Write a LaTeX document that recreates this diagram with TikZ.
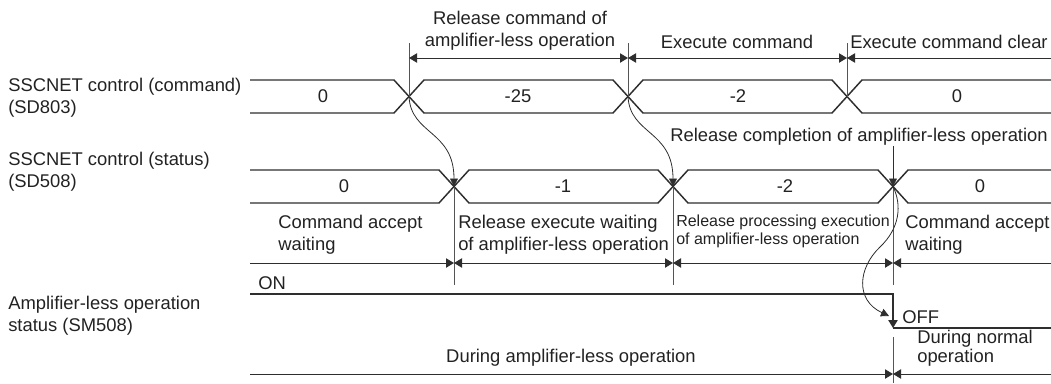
\documentclass[tikz,border=0pt]{standalone}
\usepackage{fontspec}
\setmainfont{Liberation Sans}
\usetikzlibrary{arrows.meta}
\definecolor{wire}{HTML}{2E2E2E}
\definecolor{tickgray}{HTML}{555555}
\definecolor{txt}{HTML}{222222}
\newcommand{\bigtxt}{\fontsize{13.8}{16.5}\selectfont}
\newcommand{\smalltxt}{\fontsize{12}{13.5}\selectfont}
\tikzset{
 every node/.append style={font=\bigtxt,text=txt,inner sep=0pt,align=center},
 bus/.style={draw=wire,line width=1.1pt},
 sig/.style={draw=wire,line width=1.1pt},
 tickline/.style={draw=tickgray,line width=.6pt},
 span/.style={draw=wire,line width=.75pt},
 tipend/.style={-{Triangle[length=6pt,width=7pt]}},
 tipboth/.style={{Triangle[length=6pt,width=7pt]}-{Triangle[length=6pt,width=7pt]}},
 cause/.style={draw=wire,line width=.6pt,-{Triangle[length=6pt,width=6pt]}},
 side/.style={align=left,anchor=west},
}

\begin{document}
\begin{tikzpicture}[x=.75pt,y=-.75pt]
\useasboundingbox (0,0) rectangle (1051,383);

% change points of the two word devices
\coordinate (c1) at (409,96.5);
\coordinate (c2) at (628,96.5);
\coordinate (c3) at (847,96.5);
\coordinate (s1) at (454,186.5);
\coordinate (s2) at (673,186.5);
\coordinate (s3) at (893,186.5);

% SD803
\node[side] (cmdname) at (8,98) {SSCNET control (command)\\(SD803)};
\draw[bus] (250,80) -- (394,80) -- (424,113) -- (613,113) -- (643,80) -- (832,80) -- (862,113) -- (1051,113);
\draw[bus] (250,113) -- (394,113) -- (424,80) -- (613,80) -- (643,113) -- (832,113) -- (862,80) -- (1051,80);
\node (cmdzero) at (323,96.5) {0};
\node (cmdrel) at (518,96.5) {-25};
\node (cmdexe) at (738,96.5) {-2};
\node (cmdclr) at (957,96.5) {0};

% command spans
\coordinate (t1) at (409,43);
\coordinate (t2) at (628,43);
\coordinate (t3) at (847,43);
\draw[tickline] (t1) -- (c1);
\draw[tickline] (t2) -- (c2);
\draw[tickline] (t3) -- (c3);
\coordinate (a1) at (409,58);
\coordinate (a2) at (628,58);
\coordinate (a3) at (847,58);
\coordinate (a4) at (1051,58);
\draw[span,tipboth] (a1) -- (a2);
\draw[span,tipboth] (a2) -- (a3);
\draw[span,tipend] (a4) -- (a3);
\node (relcmd) at (520,31) {Release command of\\amplifier-less operation};
\node (execmd) at (737,42) {Execute command};
\node[anchor=west] (execlr) at (850,42) {Execute command clear};

% SD508
\node[side] (statname) at (8,172) {SSCNET control (status)\\(SD508)};
\draw[bus] (250,170) -- (439,170) -- (469,203) -- (658,203) -- (688,170) -- (878,170) -- (908,203) -- (1051,203);
\draw[bus] (250,203) -- (439,203) -- (469,170) -- (658,170) -- (688,203) -- (878,203) -- (908,170) -- (1051,170);
\node (statzero) at (344,186.5) {0};
\node (statwait) at (563,186.5) {-1};
\node (statproc) at (785,186.5) {-2};
\node (statdone) at (980,186.5) {0};

\node[anchor=east] (relcomp) at (1048,137) {Release completion of amplifier-less operation};
\draw[cause] (relcomp.south -| s3) -- (s3);
\draw[cause] (c1) .. controls (411,135) and (454,130) .. (s1);
\draw[cause] (c2) .. controls (630,135) and (673,130) .. (s2);

% status spans
\coordinate (b1) at (454,285);
\coordinate (b2) at (673,285);
\coordinate (b3) at (893,285);
\draw[tickline] (s1) -- (b1);
\draw[tickline] (s2) -- (b2);
\draw[tickline] (s3) -- (b3);
\coordinate (d0) at (250,263);
\coordinate (d1) at (454,263);
\coordinate (d2) at (673,263);
\coordinate (d3) at (893,263);
\coordinate (d4) at (1051,263);
\draw[span,tipend] (d0) -- (d1);
\draw[span,tipboth] (d1) -- (d2);
\draw[span,tipboth] (d2) -- (d3);
\draw[span,tipend] (d4) -- (d3);
\node[side] (accfirst) at (278,235) {Command accept\\waiting};
\node[side] (relwait) at (458,235) {Release execute waiting\\of amplifier-less operation};
\node[side,font=\smalltxt] (relproc) at (676,231) {Release processing execution\\of amplifier-less operation};
\node[side] (acclast) at (905,235) {Command accept\\waiting};

% SM508
\node[side] (ampname) at (8,316) {Amplifier-less operation\\status (SM508)};
\node[anchor=west] (on) at (258,283) {ON};
\coordinate (on0) at (250,294);
\coordinate (fall) at (893,294);
\coordinate (low) at (893,328);
\coordinate (low1) at (1051,328);
\draw[sig,tipend] (on0) -- (fall) -- (low);
\draw[sig] (low) -- (low1);
\node[anchor=west] (off) at (902,317) {OFF};
\draw[cause] (s3) .. controls (902,205) and (900,228) .. (880,247) .. controls (858,268) and (855,300) .. (889,316);

% operation spans
\coordinate (e1) at (893,337);
\coordinate (e2) at (893,383);
\draw[tickline] (e1) -- (e2);
\coordinate (f0) at (250,374);
\coordinate (f1) at (893,374);
\coordinate (f2) at (1051,374);
\draw[span,tipend] (f0) -- (f1);
\draw[span,tipend] (f2) -- (f1);
\node (during) at (571,358) {During amplifier-less operation};
\node[side] (normal) at (917,348) {During normal\\[-2pt]operation};
\end{tikzpicture}
\end{document}
